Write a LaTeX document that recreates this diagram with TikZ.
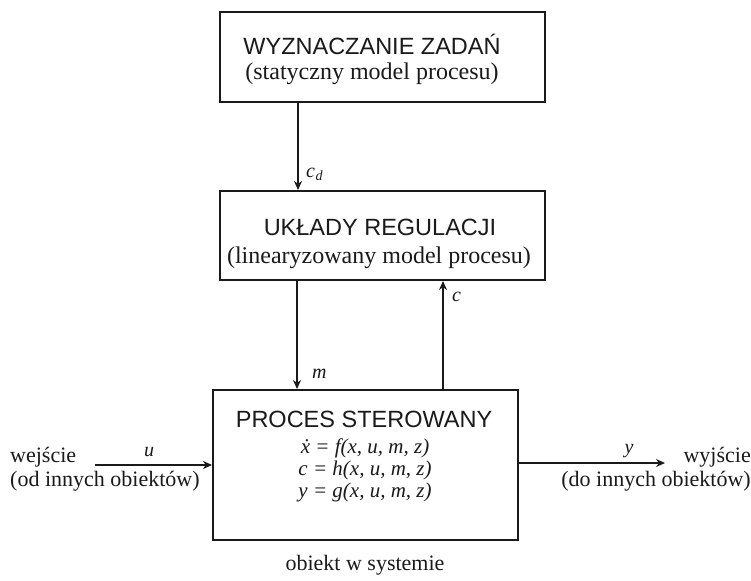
\documentclass[tikz,border=0pt]{standalone}
\usepackage{fontspec}
\setmainfont{Liberation Serif}
\newfontfamily\headfont{Liberation Sans}
\usetikzlibrary{arrows.meta}
\definecolor{ink}{HTML}{1A1A1A}
\begin{document}
\begin{tikzpicture}[x=1pt,y=-1pt,
  blk/.style={draw=ink,line width=2pt,inner sep=0pt},
  head/.style={font=\headfont\fontsize{23.5}{28}\selectfont,text=ink,inner sep=0pt},
  sub/.style={font=\fontsize{24}{28}\selectfont,text=ink,inner sep=0pt},
  eq/.style={font=\itshape\fontsize{21}{22}\selectfont,text=ink,inner sep=0pt},
  lbl/.style={font=\itshape\fontsize{20}{22}\selectfont,text=ink,inner sep=0pt},
  side/.style={font=\fontsize{22}{25}\selectfont,text=ink,inner sep=0pt},
  arr/.style={draw=ink,line width=1.8pt,-{Stealth[length=9pt,width=8pt]}}]
\useasboundingbox (0,0) rectangle (751,580);
\fill[white] (0,0) rectangle (751,580);

% blocks
\node[blk,minimum width=325pt,minimum height=90pt] (zad) at (382.5,57) {};
\node[blk,minimum width=325pt,minimum height=89pt] (reg) at (382.5,235.5) {};
\node[blk,minimum width=305pt,minimum height=150pt] (proc) at (365.5,465) {};

% block texts
\node[head] (zadh) at (372,44) {WYZNACZANIE ZADAŃ};
\node[sub]  (zads) at (372,74) {(statyczny model procesu)};
\node[head] (regh) at (380,227) {UKŁADY REGULACJI};
\node[sub]  (regs) at (379,258) {(linearyzowany model procesu)};
\node[head] (proch) at (364,419) {PROCES STEROWANY};
\node[eq,align=center] (proce) at (365,470) {\.{x} = f(x, u, m, z)\\c = h(x, u, m, z)\\y = g(x, u, m, z)};

% signal positions
\coordinate (xcd) at (298,0);
\coordinate (xm)  at (297,0);
\coordinate (xc)  at (443,0);
\coordinate (uin) at (95,465);
\coordinate (yout) at (665,463);

% connectors
\draw[arr] (zad.south -| xcd) -- (reg.north -| xcd);
\draw[arr] (reg.south -| xm) -- (proc.north -| xm);
\draw[arr] (proc.north -| xc) -- (reg.south -| xc);
\draw[arr] (uin) -- (uin -| proc.west);
\draw[arr] (proc.east |- yout) -- (yout);

% signal labels
\node[lbl,anchor=west] (lcd) at (306,174) {c\kern0.5pt\raisebox{-3pt}{\fontsize{14}{16}\selectfont d}};
\node[lbl,anchor=west] (lm) at (312,374) {m};
\node[lbl,anchor=west] (lc) at (452,297) {c};
\node[lbl] (lu) at (149,452) {u};
\node[lbl] (ly) at (629,451) {y};

% external texts
\node[side,anchor=west] (win) at (10,457) {wejście};
\node[side,anchor=west] (wins) at (10,481) {(od innych obiektów)};
\node[side,anchor=east] (wyj) at (751,457) {wyjście};
\node[side,anchor=east] (wyjs) at (751,481) {(do innych obiektów)};
\node[side] (obj) at (365,565) {obiekt w systemie};
\end{tikzpicture}
\end{document}
